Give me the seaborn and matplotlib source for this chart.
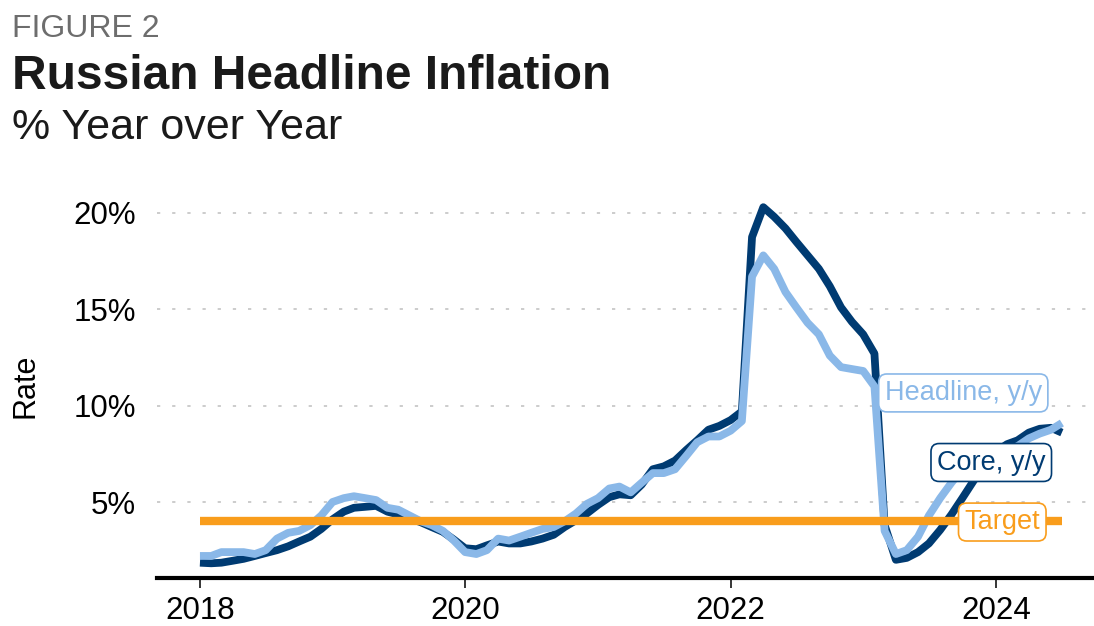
import matplotlib
matplotlib.use("Agg")
import matplotlib.pyplot as plt
import pandas as pd
import seaborn as sns

# Monthly observations, Jan 2018 - Jul 2024
months = pd.date_range("2018-01-01", "2024-07-01", freq="MS")

headline = [
    2.2, 2.2, 2.4, 2.4, 2.4, 2.3, 2.5, 3.1, 3.4, 3.5, 3.8, 4.3,        # 2018
    5.0, 5.2, 5.3, 5.2, 5.1, 4.7, 4.6, 4.3, 4.0, 3.8, 3.5, 3.0,        # 2019
    2.4, 2.3, 2.5, 3.1, 3.0, 3.2, 3.4, 3.6, 3.7, 4.0, 4.4, 4.9,        # 2020
    5.2, 5.7, 5.8, 5.5, 6.0, 6.5, 6.5, 6.7, 7.4, 8.1, 8.4, 8.4,        # 2021
    8.7, 9.2, 16.7, 17.8, 17.1, 15.9, 15.1, 14.3, 13.7, 12.6, 12.0, 11.9,  # 2022
    11.8, 11.0, 3.5, 2.3, 2.5, 3.2, 4.3, 5.2, 6.0, 6.7, 7.5, 7.4,      # 2023
    7.4, 7.7, 7.9, 8.3, 8.55, 8.75, 9.1,                               # 2024
]

core = [
    1.85, 1.82, 1.85, 1.95, 2.05, 2.2, 2.35, 2.5, 2.7, 2.95, 3.2, 3.6,      # 2018
    4.1, 4.5, 4.7, 4.75, 4.8, 4.5, 4.35, 4.15, 3.95, 3.7, 3.45, 3.05,       # 2019
    2.6, 2.55, 2.75, 2.95, 2.85, 2.85, 2.95, 3.1, 3.3, 3.7, 4.05, 4.4,      # 2020
    4.85, 5.25, 5.4, 5.35, 5.9, 6.7, 6.85, 7.15, 7.7, 8.2, 8.75, 8.95,      # 2021
    9.25, 9.7, 18.75, 20.3, 19.8, 19.2, 18.5, 17.8, 17.1, 16.2, 15.1, 14.35,  # 2022
    13.7, 12.7, 3.8, 2.0, 2.1, 2.4, 2.85, 3.55, 4.35, 5.2, 6.1, 6.9,        # 2023
    7.6, 8.0, 8.2, 8.6, 8.8, 8.85, 8.6,                                     # 2024
]

target_rate = 4.0

year_ticks = [2018, 2020, 2022, 2024]
y_ticks = [5, 10, 15, 20]
y_tick_labels = ["5%", "10%", "15%", "20%"]

NAVY = "#003b72"
LIGHT = "#8ab8e8"
ORANGE = "#f99d1c"

sns.set_theme(style="white")
plt.rcParams["font.family"] = ["Liberation Sans", "DejaVu Sans"]

W, H = 1094, 626
fig = plt.figure(figsize=(W / 100, H / 100), dpi=100)
ax_left, ax_right, ax_bottom, ax_top = 157, 1094, 578, 193.7
ax = fig.add_axes([ax_left / W, 1 - ax_bottom / H,
                   (ax_right - ax_left) / W, (ax_bottom - ax_top) / H])

df = pd.DataFrame({"date": months, "Core, y/y": core, "Headline, y/y": headline})

line_kw = dict(linewidth=5.6, solid_joinstyle="round", solid_capstyle="butt")
sns.lineplot(data=df, x="date", y="Core, y/y", color=NAVY, ax=ax, zorder=3, **line_kw)
sns.lineplot(data=df, x="date", y="Headline, y/y", color=LIGHT, ax=ax, zorder=4, **line_kw)
ax.plot([months[0], months[-1]], [target_rate, target_rate], color=ORANGE,
        linewidth=6.0, solid_capstyle="butt", zorder=5)


def year_pos(y):
    """Fractional year -> timestamp on the date axis."""
    yr = int(y)
    start = pd.Timestamp(f"{yr}-01-01")
    end = pd.Timestamp(f"{yr + 1}-01-01")
    return start + (end - start) * (y - yr)


ax.set_xlim(year_pos(2017.676), year_pos(2024.739))
ax.set_ylim(1.056, 21.0)

ax.set_xticks([pd.Timestamp(f"{y}-01-01") for y in year_ticks])
ax.set_xticklabels([str(y) for y in year_ticks])
ax.set_yticks(y_ticks)
ax.set_yticklabels(y_tick_labels)
ax.set_xlabel("")
ax.set_ylabel("")

ax.grid(axis="y", color="#c8c8c8", linewidth=1.3, linestyle=(0, (1.8, 6.6)))
ax.grid(axis="x", visible=False)
for side in ["left", "right", "top"]:
    ax.spines[side].set_visible(False)
ax.spines["bottom"].set_color("black")
ax.spines["bottom"].set_linewidth(3.0)

ax.tick_params(axis="x", direction="out", length=7, width=1.1, color="black",
               labelsize=22.5, labelcolor="black", pad=6, bottom=True)
ax.tick_params(axis="y", length=0, labelsize=22.5, labelcolor="black", pad=15)

# Series labels
box = dict(boxstyle="round,pad=0.22,rounding_size=0.3", facecolor="white", linewidth=1.2)
ax.text(year_pos(2023.755), 10.66, "Headline, y/y", color=LIGHT, fontsize=19.5,
        ha="center", va="center", zorder=6, bbox=dict(box, edgecolor=LIGHT))
ax.text(year_pos(2023.966), 7.05, "Core, y/y", color=NAVY, fontsize=19.5,
        ha="center", va="center", zorder=6, bbox=dict(box, edgecolor=NAVY))
ax.text(year_pos(2024.049), 3.96, "Target", color=ORANGE, fontsize=19.5,
        ha="center", va="center", zorder=6, bbox=dict(box, edgecolor=ORANGE))

# Headings
fig.text(12 / W, 1 - 37 / H, "FIGURE 2", color="#6d6d6d", fontsize=23,
         ha="left", va="baseline")
fig.text(12 / W, 1 - 89 / H, "Russian Headline Inflation", color="#1a1a1a",
         fontsize=34.5, fontweight="bold", ha="left", va="baseline")
fig.text(12 / W, 1 - 139 / H, "% Year over Year", color="#1a1a1a", fontsize=31,
         ha="left", va="baseline")
fig.text(25 / W, 1 - 386 / H, "Rate", color="black", fontsize=22, rotation=90,
         ha="center", va="center")

fig.savefig("out.png", dpi=100)
